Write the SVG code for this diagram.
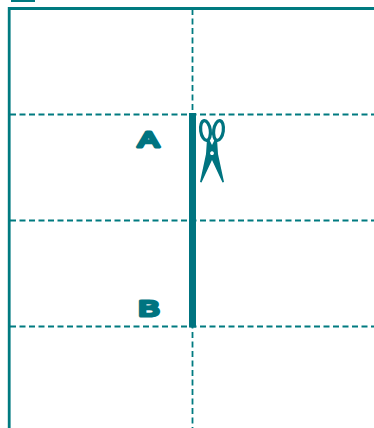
<svg xmlns="http://www.w3.org/2000/svg" width="374" height="428" viewBox="0 0 374 428">
<style>
.frame{fill:none;stroke:#007a80;stroke-width:2.8}
.fold{fill:none;stroke:#007a80;stroke-width:1.8;stroke-dasharray:6 3.5}
.cut{fill:none;stroke:#007480;stroke-width:7}
.lbl{font-family:"Liberation Sans",sans-serif;font-weight:400;font-size:22.500px;fill:#007480;stroke:#007480;stroke-width:3.200;stroke-linejoin:round;text-anchor:middle}
</style>
<rect width="374" height="428" fill="#fff"/>
<g id="sheet">
<path class="frame" d="M11 .6H35" />
<path class="frame" d="M374 8.500H9.200V428"/>
</g>
<g id="connectors">
<path class="fold" d="M10 114.500H374M10 220.500H374M10 326.500H374"/>
<path class="fold" d="M192.500 9V428"/>
<path class="cut" d="M192.500 113V327.500"/>
</g>
<g id="node-a"><text class="lbl" transform="translate(148.500 146.800) scale(1.4 1)">A</text></g>
<g id="node-b"><text class="lbl" transform="translate(149 315.500) scale(1.4 1)">B</text></g>
<g id="scissors">
<ellipse cx="205.500" cy="130.500" rx="4.800" ry="10" transform="rotate(-8 205.500 130.500)" fill="none" stroke="#007480" stroke-width="3.200"/>
<ellipse cx="218.500" cy="130.500" rx="4.800" ry="10" transform="rotate(8 218.500 130.500)" fill="none" stroke="#007480" stroke-width="3.200"/>
<path fill="#007480" fill-rule="evenodd" d="M207 139L209.500 140 212 145 214.500 140 217 139 218 154 224 182 222.500 182.500 212 160 201.500 182.500 200 182 206 154ZM212 151.300a1.900 1.900 0 1 0 .01 0Z"/>
</g>
</svg>
